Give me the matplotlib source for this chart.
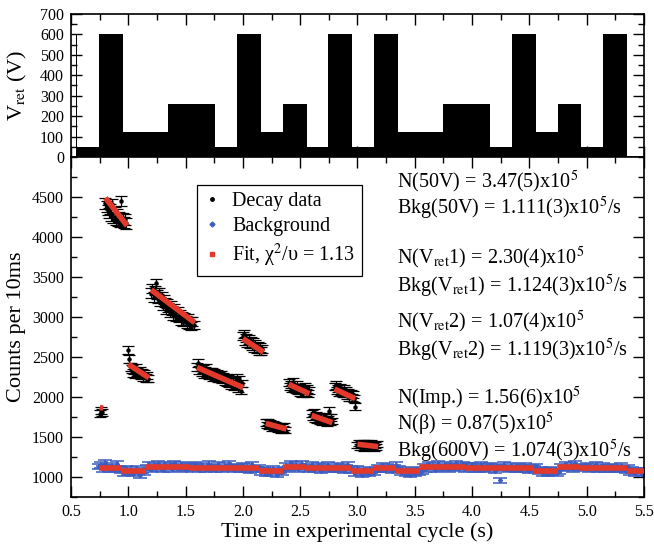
import numpy as np
import matplotlib
matplotlib.use('Agg')
import matplotlib.pyplot as plt
from matplotlib.lines import Line2D
from matplotlib.ticker import MultipleLocator

plt.rcParams['font.family'] = ['Liberation Serif', 'DejaVu Serif']
plt.rcParams['mathtext.fontset'] = 'stix'

# retarding voltage program (top panel), step edges in s and level in V
vret_edges = [0.545, 0.555, 0.744, 0.955, 1.347, 1.755, 1.947, 2.162, 2.347, 2.562,
              2.747, 2.955, 3.147, 3.355, 3.744, 4.155, 4.347, 4.555, 4.747, 4.955,
              5.147, 5.355]
vret_levels = [600, 50, 600, 120, 260, 50, 600, 120, 260, 50,
               600, 50, 600, 120, 260, 50, 600, 120, 260, 50, 600]

# decay data, 10 ms bins, one list per measurement window
decay_start = [0.75, 0.80, 1.00, 1.20, 1.60, 2.00, 2.20, 2.40, 2.60, 2.80, 3.00]
decay_a = [1790, 1830, 1810]
decay_b = [4420, 4380, 4340, 4300, 4350, 4270, 4410, 4240, 4310, 4220,
           4280, 4200, 4250, 4190, 4450, 4230, 4180, 4220, 4170]
decay_c = [2590, 2470, 2380, 2350, 2300, 2330, 2290, 2360, 2310, 2280,
           2330, 2270, 2300, 2250, 2290, 2240, 2270, 2230]
decay_d = [3300, 3360, 3250, 3330, 3420, 3280, 3230, 3300, 3190, 3250,
           3140, 3220, 3180, 3090, 3170, 3120, 3060, 3150, 3080, 3020,
           3110, 3050, 3000, 3070, 2990, 3030, 2960, 3010, 2940, 3000,
           2960, 2920, 2980, 2910, 2950, 2890, 2940, 2900]
decay_e = [2380, 2430, 2340, 2370, 2310, 2350, 2290, 2330, 2360, 2300,
           2270, 2320, 2280, 2310, 2250, 2300, 2260, 2290, 2230, 2270,
           2240, 2280, 2220, 2250, 2200, 2240, 2190, 2230, 2170, 2210,
           2150, 2190, 2130, 2200, 2160, 2240, 2110, 2220, 2080, 2170]
decay_f = [2760, 2790, 2700, 2740, 2680, 2720, 2660, 2700, 2640, 2680,
           2620, 2660, 2600, 2640, 2580, 2620, 2570, 2600]
decay_g = [1680, 1650, 1690, 1640, 1670, 1620, 1660, 1630, 1650, 1610,
           1640, 1600, 1630, 1590, 1620, 1600, 1630, 1590]
decay_h = [2180, 2130, 2160, 2110, 2190, 2120, 2090, 2150, 2080, 2120,
           2060, 2110, 2040, 2090, 2130, 2060, 2100, 2040, 2080]
decay_i = [1790, 1750, 1810, 1730, 1770, 1720, 1760, 1700, 1750, 1690,
           1740, 1710, 1760, 1680, 1720, 1830, 1690, 1740, 1700]
decay_j = [2130, 2150, 2080, 2110, 2060, 2120, 2070, 2040, 2100, 2050,
           2080, 2020, 2060, 2000, 2040, 1990, 2030, 1980, 1880]
decay_k = [1400, 1430, 1370, 1410, 1380, 1420, 1360, 1400, 1430, 1370,
           1410, 1380, 1420, 1390, 1360, 1400, 1380, 1410]
decay_groups = [decay_a, decay_b, decay_c, decay_d, decay_e, decay_f,
                decay_g, decay_h, decay_i, decay_j, decay_k]

# fit of the decay windows (start/end of each window)
fit_t0 = [0.75, 0.80, 1.00, 1.20, 1.60, 2.00, 2.20, 2.40, 2.60, 2.80, 3.00]
fit_t1 = [0.78, 0.99, 1.18, 1.58, 2.00, 2.18, 2.38, 2.58, 2.78, 2.98, 3.18]
fit_c0 = [1870, 4490, 2410, 3340, 2370, 2730, 1670, 2160, 1770, 2100, 1410]
fit_c1 = [1860, 4140, 2240, 2930, 2120, 2560, 1600, 2040, 1680, 1980, 1380]

# background, 20 ms steps from 0.74 s to 5.50 s
bg_t0, bg_t1 = 0.74, 5.50
bg_counts = [
    1130, 1150, 1100, 1180, 1120, 1090, 1140, 1110, 1160, 1100,
    1080, 1050, 1100, 1060, 1090, 1040, 1070, 1100, 1020, 1080, 1060,
    1120, 1150, 1100, 1140, 1110, 1160, 1130, 1090, 1150, 1120,
    1140, 1100, 1170, 1130, 1110, 1150, 1120, 1090, 1140, 1130,
    1110, 1150, 1130, 1090, 1140, 1120, 1100, 1160, 1110, 1130,
    1090, 1150, 1120, 1100, 1140, 1110, 1160, 1120, 1090, 1130,
    1120, 1090, 1140, 1100, 1130, 1080, 1150, 1110, 1090, 1120,
    1060, 1090, 1040, 1080, 1050, 1100, 1070, 1030, 1080, 1060, 1090,
    1140, 1110, 1170, 1120, 1150, 1100, 1130, 1160, 1110,
    1130, 1100, 1150, 1090, 1120, 1140, 1080, 1130, 1110, 1150, 1100,
    1120, 1090, 1140, 1100, 1130, 1080, 1120, 1150, 1100,
    1080, 1050, 1100, 1060, 1030, 1090, 1070, 1040, 1080, 1060, 1090,
    1120, 1100, 1140, 1090, 1130, 1110, 1080, 1120, 1150, 1100,
    1060, 1090, 1040, 1070, 1030, 1080, 1050, 1090, 1060, 1070,
    1130, 1100, 1150, 1120, 1140, 1090, 1160, 1120, 1110, 1150,
    1130, 1100, 1140, 1120, 1170, 1110, 1130, 1150, 1100, 1140,
    1120, 1140, 1100, 1130, 1090, 1150, 1110, 1130, 1100, 1140,
    1120, 1080, 1130, 960, 1110, 1150, 1120, 1100, 1140, 1110,
    1100, 1130, 1090, 1120, 1140, 1100, 1080, 1120, 1110, 1130,
    1070, 1090, 1050, 1080, 1040, 1090, 1060, 1080, 1050, 1070,
    1130, 1110, 1150, 1120, 1140, 1100, 1160, 1120, 1130, 1110,
    1120, 1140, 1100, 1130, 1110, 1150, 1090, 1120, 1140, 1100, 1120,
    1100, 1130, 1090, 1120, 1110, 1140, 1100, 1080, 1120,
    1060, 1090, 1050, 1080, 1070, 1040, 1080,
]
bg_fit_edges = [0.74, 0.94, 1.15, 1.54, 1.95, 2.14, 2.35, 2.54, 2.75, 2.94, 3.14,
                3.34, 3.55, 3.94, 4.35, 4.54, 4.75, 4.94, 5.15, 5.35, 5.50]
bg_fit_levels = [1111, 1074, 1124, 1119, 1111, 1074, 1124, 1119, 1111, 1074,
                 1111, 1074, 1124, 1119, 1111, 1074, 1124, 1119, 1111, 1074]

results = [
    (0.926, 'N(50V) = 3.47(5)x10$^5$'),
    (0.850, 'Bkg(50V) = 1.111(3)x10$^5$/s'),
    (0.703, 'N(V$_{\\rm ret}$1) = 2.30(4)x10$^5$'),
    (0.618, 'Bkg(V$_{\\rm ret}$1) = 1.124(3)x10$^5$/s'),
    (0.515, 'N(V$_{\\rm ret}$2) = 1.07(4)x10$^5$'),
    (0.432, 'Bkg(V$_{\\rm ret}$2) = 1.119(3)x10$^5$/s'),
    (0.291, 'N(Imp.) = 1.56(6)x10$^5$'),
    (0.215, 'N(β) = 0.87(5)x10$^5$'),
    (0.135, 'Bkg(600V) = 1.074(3)x10$^5$/s'),
]

RED = '#e3392b'
BLUE = '#3b5cc0'

fig = plt.figure(figsize=(6.54, 5.46), dpi=100)
ax1 = fig.add_axes([0.1086, 0.7125, 0.876, 0.262])
ax2 = fig.add_axes([0.1086, 0.0897, 0.876, 0.6227])

# top panel
ax1.fill_between(vret_edges, vret_levels + [vret_levels[-1]], step='post',
                 color='black', lw=0)
ax1.set_xlim(0.5, 5.5)
ax1.set_ylim(0, 700)
ax1.yaxis.set_major_locator(MultipleLocator(100))
ax1.yaxis.set_minor_locator(MultipleLocator(50))
ax1.set_ylabel('V$_{\\rm ret}$ (V)', fontsize=16)

# bottom panel
bg_t = np.linspace(bg_t0, bg_t1, len(bg_counts))
bg_c = np.array(bg_counts)
ax2.errorbar(bg_t, bg_c, yerr=np.sqrt(bg_c), fmt='D', ms=2, color=BLUE,
             ecolor=BLUE, elinewidth=1.1, capsize=5, capthick=1.1, zorder=2)

for start, grp in zip(decay_start, decay_groups):
    c = np.array(grp)
    t = start + 0.01 * np.arange(len(c))
    ax2.errorbar(t, c, yerr=np.sqrt(c), fmt='o', ms=2.2, color='black',
                 ecolor='black', elinewidth=0.9, capsize=4.5, capthick=0.9, zorder=3)

for t0, t1, c0, c1 in zip(fit_t0, fit_t1, fit_c0, fit_c1):
    ax2.plot([t0, t1], [c0, c1], color=RED, lw=4, solid_capstyle='butt', zorder=4)

for i, lev in enumerate(bg_fit_levels):
    ax2.plot([bg_fit_edges[i], bg_fit_edges[i + 1]], [lev, lev], color=RED, lw=4,
             solid_capstyle='butt', zorder=4)

ax2.set_xlim(0.5, 5.5)
ax2.set_ylim(750, 5000)
ax2.yaxis.set_major_locator(MultipleLocator(500))
ax2.yaxis.set_minor_locator(MultipleLocator(250))
ax2.set_yticks([1000, 1500, 2000, 2500, 3000, 3500, 4000, 4500])
ax2.set_xlabel('Time in experimental cycle (s)', fontsize=16, labelpad=2)
ax2.set_ylabel('Counts per 10ms', fontsize=16)

for ax in (ax1, ax2):
    ax.xaxis.set_major_locator(MultipleLocator(0.5))
    ax.xaxis.set_minor_locator(MultipleLocator(0.25))
    ax.tick_params(which='both', direction='in', top=True, right=True,
                   labelsize=11.5, width=1.0, pad=5)
    ax.tick_params(which='major', length=8)
    ax.tick_params(which='minor', length=4.5)
    for s in ax.spines.values():
        s.set_linewidth(1.2)

ax1.tick_params(axis='x', labelbottom=False)
ax2.xaxis.set_major_formatter(plt.FuncFormatter(lambda v, p: '%.1f' % v))

ax1.yaxis.set_label_coords(-0.073, 0.5)
ax2.yaxis.set_label_coords(-0.079, 0.5)

for y, s in results:
    ax2.text(0.569, y, s, transform=ax2.transAxes, fontsize=14.5, va='center')

handles = [
    Line2D([], [], ls='none', marker='o', ms=2.5, color='black'),
    Line2D([], [], ls='none', marker='D', ms=2.5, color=BLUE),
    Line2D([], [], ls='none', marker='s', ms=3, color=RED),
]
labels = ['Decay data', 'Background', 'Fit, χ$^2$/υ = 1.13']
leg = ax2.legend(handles, labels, loc='upper left', bbox_to_anchor=(0.22, 0.918),
                 fontsize=14.5, frameon=True, fancybox=False, framealpha=1,
                 edgecolor='black', handlelength=0.8, handletextpad=0.6,
                 borderpad=0.35, labelspacing=0.3, borderaxespad=0)
leg.get_frame().set_linewidth(0.9)

fig.savefig('out.png', dpi=100)
